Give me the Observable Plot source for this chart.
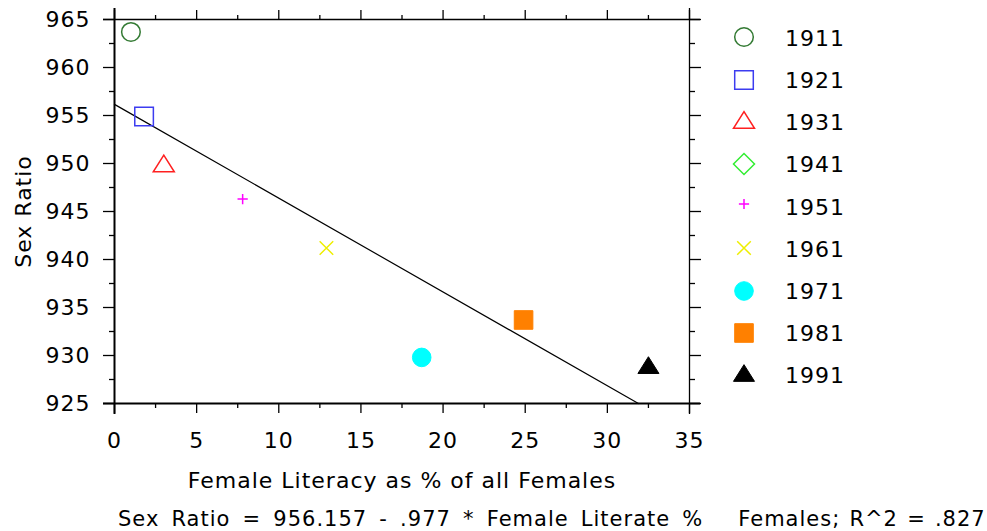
<!DOCTYPE html>
<html>
<head>
<meta charset="utf-8">
<script src="https://cdn.jsdelivr.net/npm/d3@7"></script>
<script src="https://cdn.jsdelivr.net/npm/@observablehq/plot@0.6"></script>
<style>
  body { margin: 0; background: #fff; }
  #wrap { position: relative; width: 987px; height: 531px; overflow: hidden; font-family: "DejaVu Sans"; color: #000; }
  #wrap svg.plot { display: block; }
  .leg { position: absolute; left: 0; top: 0; }
  .leg-item { position: absolute; height: 30px; display: flex; align-items: center; }
  .leg-item span { font-size: 22px; letter-spacing: 1px; margin-left: 26px; }
  #caption { position: relative; top: 4px; font-size: 21px; letter-spacing: 1px; white-space: pre; padding-left: 118px; line-height: 31px; height: 31px; }
  #caption .c1 { word-spacing: 4.5px; }
  #caption .c2 { word-spacing: 1.5px; }
  #caption .gap { display: inline-block; width: 35px; }
</style>
</head>
<body>
<div id="wrap"></div>
<script>
// ---- data ----
const years    = ["1911", "1921", "1931", "1941", "1951", "1961", "1971", "1981", "1991"];
const literacy = [1.0, 1.8, 3.0, null, 7.8, 12.9, 18.7, 24.9, 32.5];
const sexRatio = [963.7, 954.9, 950.0, null, 946.3, 941.2, 929.8, 933.7, 929.0];
const symbolKinds = ["circle", "square", "triangle", "diamond", "plus", "times", "circle", "square", "triangle"];
const filled   = [false, false, false, false, false, false, true, true, true];
const colors   = ["#337a33", "#3c3cf0", "#ff2020", "#33ee33", "#ff00ff", "#eeee00", "#00ffff", "#ff8000", "#000000"];
const intercept = 956.157;
const slope = -0.977;
const xTicks = [0, 5, 10, 15, 20, 25, 30, 35];
const xMinor = [2.5, 7.5, 12.5, 17.5, 22.5, 27.5, 32.5];
const yTicks = [925, 930, 935, 940, 945, 950, 955, 960, 965];
const yMinor = [927.5, 932.5, 937.5, 942.5, 947.5, 952.5, 957.5, 962.5];
const xLabel = "Female Literacy as % of all Females";
const yLabel = "Sex Ratio";
const captionLeft = "Sex Ratio = 956.157 - .977 * Female Literate %";
const captionRight = "Females; R^2 = .827";

// ---- custom symbols (size -> radius r) ----
function makeSymbol(kind) {
  return {
    draw(ctx, size) {
      const r = Math.sqrt(size / Math.PI);
      if (kind === "circle") { ctx.moveTo(r, 0); ctx.arc(0, 0, r, 0, 2 * Math.PI); ctx.closePath(); }
      else if (kind === "square") { ctx.rect(-r, -r, 2 * r, 2 * r); }
      else if (kind === "triangle") { const w = 1.13 * r, h = 0.9 * r; ctx.moveTo(0, -h); ctx.lineTo(w, h); ctx.lineTo(-w, h); ctx.closePath(); }
      else if (kind === "diamond") { const d = 1.13 * r; ctx.moveTo(0, -d); ctx.lineTo(d, 0); ctx.lineTo(0, d); ctx.lineTo(-d, 0); ctx.closePath(); }
      else if (kind === "plus") { const p = 0.55 * r; ctx.moveTo(-p, 0); ctx.lineTo(p, 0); ctx.moveTo(0, -p); ctx.lineTo(0, p); }
      else if (kind === "times") { const t = 0.73 * r; ctx.moveTo(-t, -t); ctx.lineTo(t, t); ctx.moveTo(-t, t); ctx.lineTo(t, -t); }
    }
  };
}
const R = 9.3;

const points = years.map((year, i) => ({year, x: literacy[i], y: sexRatio[i], i}))
  .filter(d => d.x != null && d.y != null);

const xEnd = (925 - intercept) / slope;
const fitLine = [{x: 0}, {x: xEnd}].map(d => ({x: d.x, y: intercept + slope * d.x}));

const dotMarks = points.map(d => Plot.dot([d], {
  x: "x", y: "y", r: R,
  symbol: makeSymbol(symbolKinds[d.i]),
  fill: filled[d.i] ? colors[d.i] : "none",
  stroke: colors[d.i],
  strokeWidth: filled[d.i] ? 1 : 1.5
}));

const chart = Plot.plot({
  width: 987,
  height: 500,
  marginLeft: 114,
  marginRight: 298,
  marginTop: 19,
  marginBottom: 97,
  x: {domain: [0, 35]},
  y: {domain: [925, 965]},
  style: {fontFamily: "DejaVu Sans", fontSize: "22px", letterSpacing: "1px", color: "#000", background: "#fff"},
  marks: [
    // frame lines extended past the corners
    Plot.ruleY([925], {insetLeft: -11, insetRight: -11, strokeWidth: 2}),
    Plot.ruleY([965], {insetLeft: -11, insetRight: -11, strokeWidth: 1.3}),
    Plot.ruleX([0], {insetTop: -11, insetBottom: -11, strokeWidth: 2}),
    Plot.ruleX([35], {insetTop: -11, insetBottom: -11, strokeWidth: 1.3}),
    // major + minor ticks on all sides
    Plot.axisX(xTicks, {anchor: "bottom", tickSize: 10, tickPadding: 19, strokeWidth: 1.3, fontSize: 22, label: null}),
    Plot.axisX(xMinor, {anchor: "bottom", tickSize: 5, strokeWidth: 1.3, tickFormat: () => "", label: null}),
    Plot.axisX(xTicks, {anchor: "top", tickSize: 10, strokeWidth: 1.3, tickFormat: () => "", label: null}),
    Plot.axisX(xMinor, {anchor: "top", tickSize: 5, strokeWidth: 1.3, tickFormat: () => "", label: null}),
    Plot.axisY(yTicks, {anchor: "left", tickSize: 11, strokeWidth: 1.3, tickFormat: () => "", label: null}),
    Plot.axisY(yMinor, {anchor: "left", tickSize: 5, strokeWidth: 1.3, tickFormat: () => "", label: null}),
    Plot.axisY(yTicks, {anchor: "right", tickSize: 11, strokeWidth: 1.3, tickFormat: () => "", label: null}),
    Plot.axisY(yMinor, {anchor: "right", tickSize: 5, strokeWidth: 1.3, tickFormat: () => "", label: null}),
    // y tick labels
    Plot.text(yTicks, {y: d => d, text: d => String(d), frameAnchor: "left", textAnchor: "end", dx: -24, fontSize: 22}),
    // axis titles
    Plot.text([xLabel], {text: d => d, frameAnchor: "bottom", textAnchor: "middle", dy: 84, fontSize: 22}),
    Plot.text([yLabel], {text: d => d, frameAnchor: "left", textAnchor: "middle", rotate: -90, dx: -91, fontSize: 22}),
    // regression line
    Plot.line(fitLine, {x: "x", y: "y", stroke: "#000", strokeWidth: 1.2}),
    ...dotMarks
  ]
});
chart.classList.add("plot");

const wrap = document.getElementById("wrap");
wrap.appendChild(chart);

// caption below the svg
const cap = document.createElement("div");
cap.id = "caption";
const s1 = document.createElement("span"); s1.className = "c1"; s1.textContent = captionLeft;
const g = document.createElement("span"); g.className = "gap";
const s2 = document.createElement("span"); s2.className = "c2"; s2.textContent = captionRight;
cap.append(s1, g, s2);
wrap.appendChild(cap);

// legend (vertical, right side)
const legend = document.createElement("div");
legend.className = "leg";
years.forEach((year, i) => {
  const item = document.createElement("div");
  item.className = "leg-item";
  item.style.left = "729px";
  item.style.top = (38.3 + 42.2 * i - 15) + "px";
  const path = d3.symbol(makeSymbol(symbolKinds[i]), Math.PI * R * R)();
  const shiftY = symbolKinds[i] === "triangle" ? -3 : (symbolKinds[i] === "plus" ? -3 : -1);
  item.innerHTML = `<svg width="30" height="30" viewBox="-15 -15 30 30" style="overflow:visible"><path d="${path}" transform="translate(0,${shiftY})" fill="${filled[i] ? colors[i] : "none"}" stroke="${colors[i]}" stroke-width="${filled[i] ? 1 : 1.5}"/></svg><span>${year}</span>`;
  legend.appendChild(item);
});
wrap.appendChild(legend);
</script>
</body>
</html>
